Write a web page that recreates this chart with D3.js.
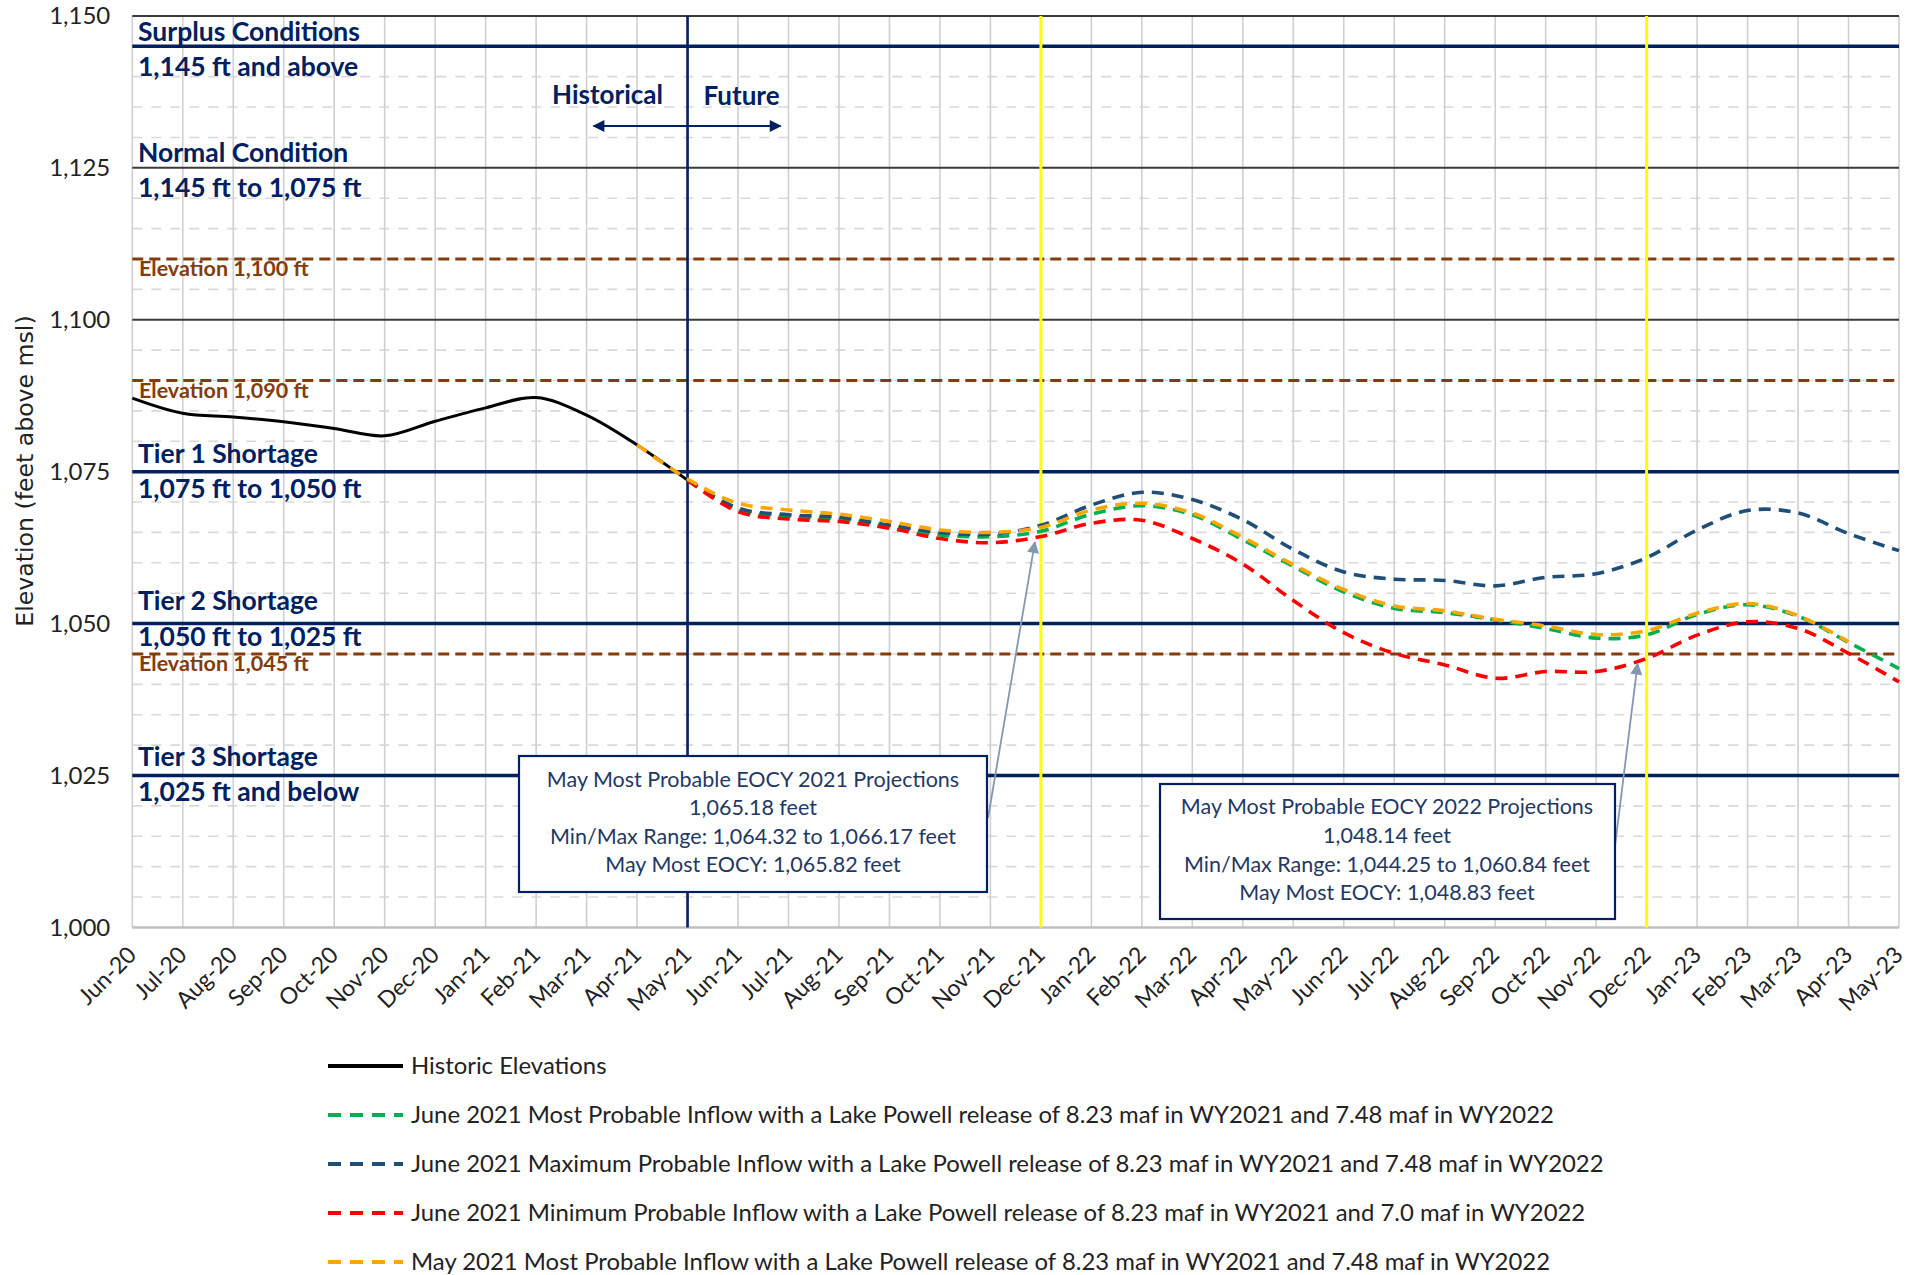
<!DOCTYPE html>
<html><head><meta charset="utf-8">
<script src="https://cdn.jsdelivr.net/npm/d3@7"></script>
<style>body{margin:0;background:#fff}svg{display:block}</style>
</head><body>
<svg id="chart" width="1921" height="1275"></svg>
<script>
// ---------------- data ----------------
const months = ["Jun-20","Jul-20","Aug-20","Sep-20","Oct-20","Nov-20","Dec-20","Jan-21","Feb-21","Mar-21","Apr-21","May-21",
  "Jun-21","Jul-21","Aug-21","Sep-21","Oct-21","Nov-21","Dec-21","Jan-22","Feb-22","Mar-22","Apr-22","May-22",
  "Jun-22","Jul-22","Aug-22","Sep-22","Oct-22","Nov-22","Dec-22","Jan-23","Feb-23","Mar-23","Apr-23","May-23"];
const yTicks = [1000, 1025, 1050, 1075, 1100, 1125, 1150];

// Jun-20 .. May-21
const historicStart = "Jun-20";
const historic = [1087.1, 1084.6, 1084.0, 1083.2, 1082.1, 1080.9, 1083.3, 1085.5, 1087.2, 1084.3, 1079.4, 1073.6];

// May-21 .. May-23
const projStart = "May-21";
const juneMostProbable = [1073.6, 1068.7, 1067.6, 1067.2, 1066.1, 1064.6, 1064.3, 1065.18, 1068.0, 1069.4, 1067.9, 1063.8, 1059.4,
  1055.2, 1052.5, 1051.8, 1050.6, 1049.2, 1047.6, 1048.14, 1051.5, 1053.1, 1051.2, 1046.9, 1042.6];
const juneMaxProbable = [1073.6, 1069.0, 1067.9, 1067.5, 1066.2, 1065.0, 1064.7, 1066.17, 1069.5, 1071.6, 1070.4, 1067.1, 1062.2,
  1058.5, 1057.3, 1057.1, 1056.2, 1057.6, 1058.2, 1060.84, 1065.4, 1068.6, 1068.2, 1064.8, 1062.0];
const juneMinProbable = [1073.6, 1068.4, 1067.2, 1066.8, 1065.7, 1064.0, 1063.3, 1064.32, 1066.5, 1067.0, 1064.0, 1059.8, 1053.8,
  1048.5, 1045.1, 1043.2, 1041.0, 1042.1, 1042.1, 1044.25, 1048.1, 1050.3, 1049.2, 1045.1, 1040.4];
// Apr-21 .. Apr-23
const mayStart = "Apr-21";
const mayMostProbable = [1079.4, 1073.8, 1069.8, 1068.7, 1068.0, 1066.8, 1065.4, 1065.0, 1065.82, 1068.7, 1069.8, 1068.2, 1064.2,
  1059.7, 1055.6, 1052.9, 1052.1, 1050.7, 1049.6, 1048.2, 1048.83, 1051.7, 1053.3, 1051.3, 1047.0];

const seriesNames = [
  "Historic Elevations",
  "June 2021 Most Probable Inflow with a Lake Powell release of 8.23 maf in WY2021 and 7.48 maf in WY2022",
  "June 2021 Maximum Probable Inflow with a Lake Powell release of 8.23 maf in WY2021 and 7.48 maf in WY2022",
  "June 2021 Minimum Probable Inflow with a Lake Powell release of 8.23 maf in WY2021 and 7.0 maf in WY2022",
  "May 2021 Most Probable Inflow with a Lake Powell release of 8.23 maf in WY2021 and 7.48 maf in WY2022"
];
const seriesColors = ["#000000", "#00B050", "#1F4E79", "#FF0000", "#FFA500"];

const conditionLevels = [1145, 1125, 1075, 1050, 1025];
const conditionTitles = ["Surplus Conditions", "Normal Condition", "Tier 1 Shortage", "Tier 2 Shortage", "Tier 3 Shortage"];
const conditionRanges = ["1,145 ft and above", "1,145 ft to 1,075 ft", "1,075 ft to 1,050 ft", "1,050 ft to 1,025 ft", "1,025 ft and below"];
const shortageLines = [1145, 1075, 1050, 1025];
const darkGridLines = [1150, 1125, 1100];
const elevationLines = [1110, 1090, 1045];
const elevationLabels = ["Elevation 1,100 ft", "Elevation 1,090 ft", "Elevation 1,045 ft"];
const dividerMonth = "May-21";
const eocyMonths = ["Dec-21", "Dec-22"];

const callout2021 = ["May Most Probable EOCY 2021 Projections", "1,065.18 feet", "Min/Max Range: 1,064.32 to 1,066.17 feet", "May Most EOCY: 1,065.82 feet"];
const callout2022 = ["May Most Probable EOCY 2022 Projections", "1,048.14 feet", "Min/Max Range: 1,044.25 to 1,060.84 feet", "May Most EOCY: 1,048.83 feet"];

// ---------------- layout ----------------
const svg = d3.select("#chart");
const L = 132.3, R = 1899, T = 15.9, B = 927.4;
const x = d3.scalePoint().domain(months).range([L, R]);
const y = d3.scaleLinear().domain([1000, 1150]).range([B, T]);
const NAVY = "#002060";

function toPoints(start, vals) {
  const i0 = months.indexOf(start);
  return vals.map((v, i) => ({m: months[i0 + i], v}));
}

// minor dashed grid (every 5 ft)
const minor = d3.range(1005, 1150, 5).filter(v => v % 25 !== 0);
svg.append("g").selectAll("line").data(minor).join("line")
  .attr("x1", L).attr("x2", R).attr("y1", d => y(d)).attr("y2", d => y(d))
  .attr("stroke", "#d9d9d9").attr("stroke-width", 1.6).attr("stroke-dasharray", "10,9");

// vertical grid
svg.append("g").selectAll("line").data(months).join("line")
  .attr("x1", d => x(d)).attr("x2", d => x(d)).attr("y1", T).attr("y2", B)
  .attr("stroke", "#d0d0d0").attr("stroke-width", 1.6);

// dark major grid
svg.append("g").selectAll("line").data(darkGridLines).join("line")
  .attr("x1", L).attr("x2", R).attr("y1", d => y(d)).attr("y2", d => y(d))
  .attr("stroke", "#3a3a3a").attr("stroke-width", 2);

// bottom axis line
svg.append("line").attr("x1", L).attr("x2", R).attr("y1", B).attr("y2", B)
  .attr("stroke", "#bfbfbf").attr("stroke-width", 2.5);

// brown elevation lines
svg.append("g").selectAll("line").data(elevationLines).join("line")
  .attr("x1", L).attr("x2", R).attr("y1", d => y(d)).attr("y2", d => y(d))
  .attr("stroke", "#843C0C").attr("stroke-width", 3).attr("stroke-dasharray", "11,6");

// shortage lines
svg.append("g").selectAll("line").data(shortageLines).join("line")
  .attr("x1", L).attr("x2", R).attr("y1", d => y(d)).attr("y2", d => y(d))
  .attr("stroke", NAVY).attr("stroke-width", 3.5);

// yellow EOCY lines
svg.append("g").selectAll("line").data(eocyMonths).join("line")
  .attr("x1", d => x(d)).attr("x2", d => x(d)).attr("y1", T).attr("y2", B)
  .attr("stroke", "#FFFF00").attr("stroke-width", 3);

// historical/future divider
svg.append("line").attr("x1", x(dividerMonth)).attr("x2", x(dividerMonth)).attr("y1", T).attr("y2", B)
  .attr("stroke", NAVY).attr("stroke-width", 2.6);

// condition labels
const aboveDy = [-5, -5.5, -9, -14, -9];
const belowDy = [30, 29, 26, 22, 26];
const condG = svg.append("g").attr("font-family", "Lato, sans-serif").attr("font-weight", "bold")
  .attr("font-size", 26.5).attr("fill", NAVY);
conditionLevels.forEach((lv, i) => {
  condG.append("text").attr("x", 138).attr("y", y(lv) + aboveDy[i]).text(conditionTitles[i]);
  condG.append("text").attr("x", 138).attr("y", y(lv) + belowDy[i]).text(conditionRanges[i]);
});

// elevation labels
svg.append("g").selectAll("text").data(elevationLines).join("text")
  .attr("x", 139).attr("y", d => y(d) + 17)
  .attr("font-family", "Lato, sans-serif").attr("font-weight", "bold").attr("font-size", 21.5)
  .attr("fill", "#843C0C").text((d, i) => elevationLabels[i]);

// Historical / Future
const defs = svg.append("defs");
function marker(id, color, w, h) {
  defs.append("marker").attr("id", id).attr("viewBox", "0 0 10 10").attr("refX", 9).attr("refY", 5)
    .attr("markerUnits", "userSpaceOnUse").attr("markerWidth", w).attr("markerHeight", h).attr("orient", "auto-start-reverse")
    .append("path").attr("d", "M0,0 L10,5 L0,10 Z").attr("fill", color);
}
marker("navyArrow", NAVY, 14, 12);
marker("grayArrow", "#8497B0", 16, 12);
const dx = x(dividerMonth);
svg.append("line").attr("x1", dx - 94).attr("x2", dx + 93).attr("y1", 126).attr("y2", 126)
  .attr("stroke", NAVY).attr("stroke-width", 2)
  .attr("marker-start", "url(#navyArrow)").attr("marker-end", "url(#navyArrow)");
svg.append("text").attr("x", dx - 80).attr("y", 104).attr("text-anchor", "middle")
  .attr("font-family", "Lato, sans-serif").attr("font-weight", "bold").attr("font-size", 26).attr("fill", NAVY).text("Historical");
svg.append("text").attr("x", dx + 54).attr("y", 105).attr("text-anchor", "middle")
  .attr("font-family", "Lato, sans-serif").attr("font-weight", "bold").attr("font-size", 26).attr("fill", NAVY).text("Future");

// series lines
const line = d3.line().x(d => x(d.m)).y(d => y(d.v)).curve(d3.curveCatmullRom.alpha(0.5));
const seriesData = [
  toPoints(historicStart, historic),
  toPoints(projStart, juneMostProbable),
  toPoints(projStart, juneMaxProbable),
  toPoints(projStart, juneMinProbable),
  toPoints(mayStart, mayMostProbable)
];
seriesData.forEach((pts, i) => {
  svg.append("path").datum(pts).attr("d", line).attr("fill", "none")
    .attr("stroke", seriesColors[i]).attr("stroke-width", i === 0 ? 3 : 3.6)
    .attr("stroke-dasharray", i === 0 ? null : "12,8");
});

// axes
const yAxis = svg.append("g").attr("transform", `translate(${L},0)`)
  .call(d3.axisLeft(y).tickValues(yTicks).tickFormat(d3.format(",")).tickSize(0).tickPadding(22));
yAxis.select(".domain").remove();
yAxis.selectAll("text").attr("font-family", "Lato, sans-serif").attr("font-size", 24).attr("fill", "#222");

const xAxis = svg.append("g").attr("transform", `translate(0,${B})`)
  .call(d3.axisBottom(x).tickSize(0));
xAxis.select(".domain").remove();
xAxis.selectAll("text")
  .attr("font-family", "Lato, sans-serif").attr("font-size", 23).attr("fill", "#222")
  .attr("text-anchor", "end").attr("dy", null).attr("y", null)
  .attr("transform", "translate(5,29) rotate(-45)");

svg.append("text").attr("transform", "translate(33,471) rotate(-90)").attr("text-anchor", "middle")
  .attr("font-family", "'DejaVu Sans', sans-serif").attr("font-size", 23.6).attr("fill", "#222")
  .text("Elevation (feet above msl)");

// callouts
function callout(lines, bx, by, bw, bh, cx, baselines, from, tip) {
  svg.append("line").attr("x1", from[0]).attr("y1", from[1]).attr("x2", tip[0]).attr("y2", tip[1])
    .attr("stroke", "#8497B0").attr("stroke-width", 1.8).attr("marker-end", "url(#grayArrow)");
  svg.append("rect").attr("x", bx).attr("y", by).attr("width", bw).attr("height", bh)
    .attr("fill", "#fff").attr("stroke", NAVY).attr("stroke-width", 2.2);
  const g = svg.append("g").attr("font-family", "Lato, sans-serif").attr("font-size", 21.5)
    .attr("fill", "#1F3864").attr("text-anchor", "middle");
  lines.forEach((t, i) => g.append("text").attr("x", cx).attr("y", baselines[i]).text(t));
}
const d21 = x(eocyMonths[0]), d22 = x(eocyMonths[1]);
callout(callout2021, 519, 756, 468, 136, 753, [787, 815, 844, 872],
  [988, 818], [d21 - 6, y(1063.4)]);
callout(callout2022, 1160, 784, 455, 135, 1387, [814, 843, 872, 900],
  [1615, 846], [d22 - 9, y(1043.4)]);

// legend
const lg = svg.append("g");
seriesNames.forEach((name, i) => {
  const yy = 1066 + i * 49;
  lg.append("line").attr("x1", 328).attr("x2", 403).attr("y1", yy).attr("y2", yy)
    .attr("stroke", seriesColors[i]).attr("stroke-width", 4)
    .attr("stroke-dasharray", i === 0 ? null : "13,9");
  lg.append("text").attr("x", 411).attr("y", yy).attr("dy", "0.35em")
    .attr("font-family", "Lato, sans-serif").attr("font-size", 23.9).attr("fill", "#222").text(name);
});
</script>
</body></html>
